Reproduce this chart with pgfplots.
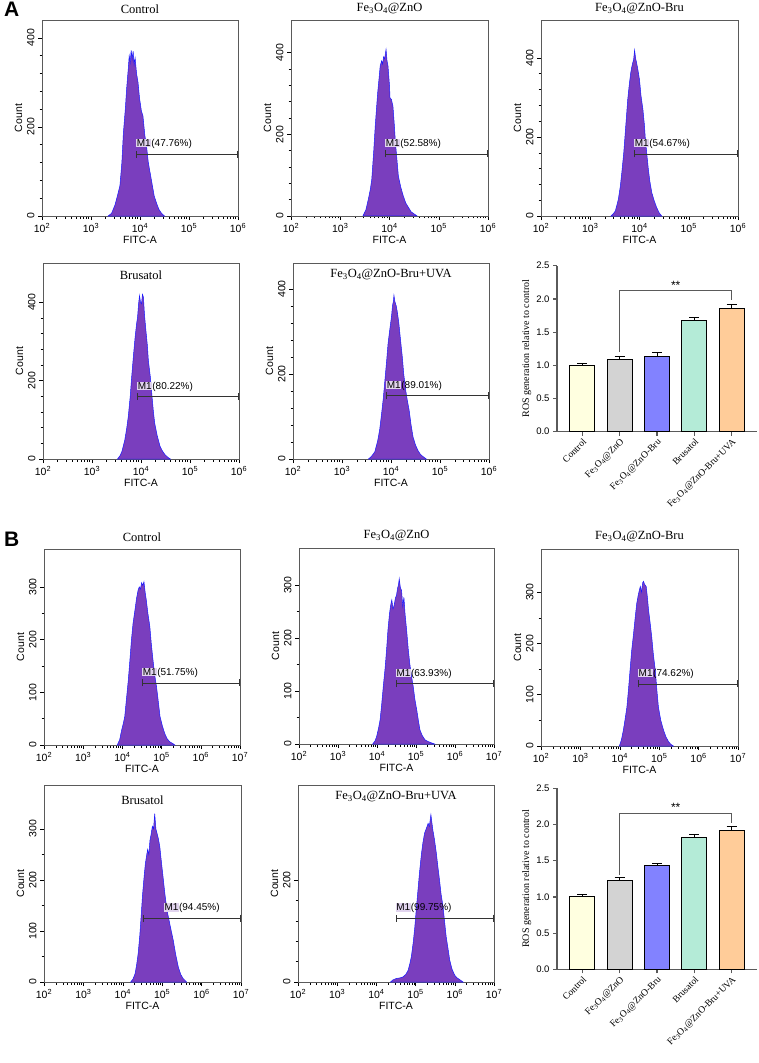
\documentclass[border=0pt]{standalone}
\usepackage{pgfplots}
\pgfplotsset{compat=1.18}
\usepackage{fontspec}
\setmainfont{Liberation Sans}
\newfontfamily\tms{Liberation Serif}
\usetikzlibrary{arrows.meta}

\definecolor{hfill}{RGB}{122,62,190}
\definecolor{hline}{RGB}{25,25,255}
\definecolor{lav}{RGB}{225,212,238}
\definecolor{axgray}{RGB}{90,90,90}
\definecolor{cCtrl}{RGB}{255,255,224}
\definecolor{cZnO}{RGB}{211,211,211}
\definecolor{cBru}{RGB}{130,130,255}
\definecolor{cBrus}{RGB}{180,235,215}
\definecolor{cUVA}{RGB}{255,204,153}

\newcommand{\FeO}{Fe\textsubscript{3}O\textsubscript{4}}
\newcommand{\ttl}[2]{\node[font=\tms\fontsize{12.5}{13}\selectfont] at (rel axis cs:0.5,1) [yshift=#1] {#2};}
\newcommand{\mone}[4]{%
  \draw[black!80, line width=0.6pt, {Bar[width=7pt]}-{Bar[width=7pt]}] (axis cs:#1,#2) -- (axis cs:\pgfkeysvalueof{/pgfplots/xmax},#2);
  \node[anchor=south west, inner sep=0pt, yshift=5pt, font=\fontsize{10}{12}\selectfont] at (axis cs:#3,#2) {{\setlength\fboxsep{0.6pt}\colorbox{lav}{M1}}(#4\%)};}

\pgfplotsset{
  hist/.style={
    scale only axis, width=196pt, height=196pt, anchor=north west,
    ymin=0, xmin=2, clip=false,
    axis line style={axgray, line width=0.6pt},
    tick style={black, line width=0.5pt},
    tick align=outside, xtick pos=bottom, ytick pos=left,
    major tick length=4pt, minor tick length=2.5pt,
    font=\fontsize{10.5}{12}\selectfont,
    /pgf/number format/assume math mode=true,
    y tick label style={rotate=90, anchor=south},
    xlabel={FITC-A}, ylabel={Count},
    xlabel style={yshift=3pt}, ylabel style={yshift=-2pt},
  },
  histA/.style={hist, xmax=6, xtick={2,3,4,5,6},
    xticklabels={10\textsuperscript{2},10\textsuperscript{3},10\textsuperscript{4},10\textsuperscript{5},10\textsuperscript{6}},
    minor xtick={2.301,2.477,2.602,2.699,2.778,2.845,2.903,2.954,
      3.301,3.477,3.602,3.699,3.778,3.845,3.903,3.954,
      4.301,4.477,4.602,4.699,4.778,4.845,4.903,4.954,
      5.301,5.477,5.602,5.699,5.778,5.845,5.903,5.954},
    ytick={0,200,400}, minor y tick num=4},
  histB/.style={hist, xmax=7, xtick={2,3,4,5,6,7},
    xticklabels={10\textsuperscript{2},10\textsuperscript{3},10\textsuperscript{4},10\textsuperscript{5},10\textsuperscript{6},10\textsuperscript{7}},
    minor xtick={2.301,2.477,2.602,2.699,2.778,2.845,2.903,2.954,
      3.301,3.477,3.602,3.699,3.778,3.845,3.903,3.954,
      4.301,4.477,4.602,4.699,4.778,4.845,4.903,4.954,
      5.301,5.477,5.602,5.699,5.778,5.845,5.903,5.954,
      6.301,6.477,6.602,6.699,6.778,6.845,6.903,6.954},
    ytick={0,100,200,300}, minor y tick num=1},
  hst/.style={draw=hline, fill=hfill, line width=0.5pt},
  ros/.style={
    scale only axis, width=200pt, anchor=north west,
    ybar, bar width=25pt, bar shift=0pt,
    xmin=-0.677, xmax=4.677, ymin=0, ymax=2.5,
    axis x line=bottom, axis y line=left,
    axis line style={axgray, line width=1.2pt, -},
    tick style={axgray, line width=1.2pt},
    tick align=outside, major tick length=4pt,
    ytick={0,0.5,1,1.5,2,2.5},
    yticklabel style={/pgf/number format/.cd, fixed, fixed zerofill, precision=1, assume math mode=true},
    xtick={0,1,2,3,4},
    xticklabels={Control, \FeO @ZnO, \FeO @ZnO-Bru, Brusatol, \FeO @ZnO-Bru+UVA},
    x tick label style={rotate=45, anchor=north east, font=\tms\fontsize{9.5}{10}\selectfont, inner sep=1.5pt},
    font=\fontsize{9.5}{11}\selectfont,
    ylabel={ROS generation relative to control},
    ylabel style={font=\tms\fontsize{10}{12}\selectfont, yshift=-2pt},
    clip=false,
    error bars/y dir=plus, error bars/y explicit,
    error bars/error bar style={black, line width=1pt},
    error bars/error mark options={black, line width=1pt, mark size=5pt, rotate=90},
  },
}

\begin{document}
\begin{tikzpicture}
\path[use as bounding box] (0pt,0pt) rectangle (758pt,-1063pt);
\node[anchor=north west, inner sep=0pt, font=\bfseries\fontsize{21}{21}\selectfont] at (4pt,-2pt) {A};
\node[anchor=north west, inner sep=0pt, font=\bfseries\fontsize{21}{21}\selectfont] at (4pt,-532pt) {B};

% ---------- A, row 1
\begin{axis}[histA, at={(42pt,-20pt)}, ymax=440]
\addplot[hst] coordinates {(3.35,0) (3.42,6) (3.49,25) (3.55,50) (3.59,68) (3.63,120) (3.66,185) (3.70,240) (3.73,290) (3.76,330) (3.78,360) (3.80,345) (3.82,372) (3.84,352) (3.86,370) (3.88,340) (3.90,355) (3.93,320) (3.96,300) (3.99,265) (4.03,235) (4.06,225) (4.10,180) (4.13,160) (4.17,120) (4.21,95) (4.25,70) (4.29,45) (4.34,28) (4.39,14) (4.44,6) (4.50,0)} \closedcycle;
\mone{3.92}{139}{3.92}{47.76}
\ttl{11pt}{Control}
\end{axis}

\begin{axis}[histA, at={(291pt,-20pt)}, width=197pt, ymax=480]
\addplot[hst] coordinates {(3.46,0) (3.52,15) (3.57,41) (3.61,65) (3.64,90) (3.68,160) (3.71,220) (3.74,270) (3.76,302) (3.79,340) (3.81,367) (3.84,380) (3.86,372) (3.88,390) (3.90,385) (3.93,408) (3.95,380) (3.97,367) (4.00,320) (4.01,290) (4.04,285) (4.07,269) (4.10,220) (4.12,180) (4.15,140) (4.18,98) (4.23,70) (4.28,49) (4.33,32) (4.39,20) (4.44,10) (4.49,6) (4.56,0)} \closedcycle;
\mone{3.91}{152}{3.91}{52.58}
\ttl{11pt}{\FeO @ZnO}
\end{axis}

\begin{axis}[histA, at={(541pt,-20pt)}, width=197pt, ymax=496]
\addplot[hst] coordinates {(3.42,0) (3.47,6) (3.51,13) (3.57,42) (3.61,75) (3.64,109) (3.68,160) (3.71,210) (3.74,260) (3.76,294) (3.79,330) (3.82,361) (3.84,375) (3.86,387) (3.88,395) (3.90,420) (3.92,400) (3.95,382) (3.97,368) (4.00,345) (4.03,305) (4.07,269) (4.10,230) (4.12,193) (4.15,155) (4.18,118) (4.21,88) (4.25,59) (4.30,38) (4.35,21) (4.40,8) (4.45,0)} \closedcycle;
\mone{3.89}{157}{3.89}{54.67}
\ttl{11pt}{\FeO @ZnO-Bru}
\end{axis}

% ---------- A, row 2
\begin{axis}[histA, at={(43pt,-263pt)}, ymax=500]
\addplot[hst] coordinates {(3.52,0) (3.57,8) (3.61,19) (3.67,49) (3.71,80) (3.74,108) (3.78,160) (3.81,210) (3.85,270) (3.88,311) (3.91,345) (3.93,362) (3.95,395) (3.97,417) (3.99,400) (4.01,396) (4.03,420) (4.05,413) (4.07,370) (4.10,328) (4.13,290) (4.15,252) (4.19,210) (4.22,167) (4.25,125) (4.28,91) (4.33,60) (4.39,32) (4.44,20) (4.49,11) (4.55,4) (4.60,0)} \closedcycle;
\mone{3.92}{160}{3.92}{80.22}
\ttl{-12pt}{Brusatol}
\end{axis}

\begin{axis}[histA, at={(293pt,-263pt)}, ymax=461]
\addplot[hst] coordinates {(3.54,0) (3.60,6) (3.67,17) (3.73,44) (3.77,70) (3.80,99) (3.84,140) (3.87,178) (3.91,230) (3.94,272) (3.97,300) (4.01,335) (4.03,360) (4.05,372) (4.06,385) (4.08,370) (4.11,359) (4.13,345) (4.16,320) (4.19,285) (4.23,241) (4.26,200) (4.30,162) (4.33,140) (4.37,115) (4.41,80) (4.45,52) (4.50,33) (4.55,20) (4.60,11) (4.65,6) (4.72,0)} \closedcycle;
\mone{3.90}{149}{3.90}{89.01}
\ttl{-12pt}{\FeO @ZnO-Bru+UVA}
\end{axis}

\begin{axis}[ros, at={(557pt,-265.7pt)}, height=166pt]
\addplot[fill=cCtrl, draw=black, line width=1pt] coordinates {(0,1.00) +- (0,0.03)};
\addplot[fill=cZnO, draw=black, line width=1pt] coordinates {(1,1.09) +- (0,0.04)};
\addplot[fill=cBru, draw=black, line width=1pt] coordinates {(2,1.14) +- (0,0.06)};
\addplot[fill=cBrus, draw=black, line width=1pt] coordinates {(3,1.67) +- (0,0.05)};
\addplot[fill=cUVA, draw=black, line width=1pt] coordinates {(4,1.86) +- (0,0.05)};
\draw[axgray, line width=1pt] (axis cs:1,1.20) -- (axis cs:1,2.12) -- (axis cs:4,2.12) -- (axis cs:4,1.98);
\node[font=\fontsize{12}{12}\selectfont, anchor=south, inner sep=1pt] at (axis cs:2.5,2.13) {**};
\end{axis}

% ---------- B, row 1
\begin{axis}[histB, at={(44pt,-549pt)}, ymax=372]
\addplot[hst] coordinates {(3.87,0) (3.93,10) (3.98,28) (4.02,40) (4.06,54) (4.10,85) (4.15,123) (4.19,160) (4.23,199) (4.27,230) (4.32,256) (4.36,278) (4.40,294) (4.43,300) (4.46,296) (4.49,308) (4.52,303) (4.55,310) (4.58,290) (4.61,275) (4.65,250) (4.70,225) (4.74,190) (4.79,155) (4.83,130) (4.87,111) (4.92,80) (4.96,54) (5.02,36) (5.08,22) (5.14,12) (5.21,6) (5.28,3) (5.34,0)} \closedcycle;
\mone{4.50}{118}{4.50}{51.75}
\ttl{12pt}{Control}
\end{axis}

\begin{axis}[histB, at={(299pt,-548pt)}, width=195pt, ymax=370]
\addplot[hst] coordinates {(3.89,0) (3.95,6) (3.99,14) (4.04,30) (4.08,46) (4.12,75) (4.16,108) (4.21,145) (4.25,183) (4.28,215) (4.32,246) (4.35,262) (4.38,272) (4.41,255) (4.44,262) (4.47,275) (4.50,281) (4.53,295) (4.55,300) (4.57,312) (4.60,295) (4.63,290) (4.66,260) (4.69,277) (4.72,245) (4.76,215) (4.80,180) (4.84,152) (4.88,130) (4.93,108) (4.97,85) (5.02,64) (5.06,45) (5.10,27) (5.16,16) (5.23,8) (5.30,5) (5.40,2) (5.48,0)} \closedcycle;
\mone{4.48}{114}{4.48}{63.93}
\ttl{12pt}{\FeO @ZnO}
\end{axis}

\begin{axis}[histB, at={(541pt,-549pt)}, width=197pt, height=197pt, ymax=384]
\addplot[hst] coordinates {(3.99,0) (4.04,12) (4.09,31) (4.13,50) (4.18,76) (4.22,110) (4.26,148) (4.30,185) (4.35,220) (4.39,250) (4.43,278) (4.47,295) (4.50,305) (4.52,311) (4.55,300) (4.58,318) (4.60,321) (4.63,315) (4.67,311) (4.70,290) (4.73,265) (4.77,240) (4.81,213) (4.85,180) (4.90,148) (4.94,110) (4.98,76) (5.04,50) (5.11,31) (5.17,18) (5.24,8) (5.30,3) (5.36,0)} \closedcycle;
\mone{4.46}{121}{4.46}{74.62}
\ttl{12pt}{\FeO @ZnO-Bru}
\end{axis}

% ---------- B, row 2
\begin{axis}[histB, at={(44pt,-785pt)}, width=197pt, height=197pt, ymax=386]
\addplot[hst] coordinates {(4.20,0) (4.26,6) (4.31,16) (4.35,33) (4.39,56) (4.43,90) (4.47,134) (4.50,170) (4.54,206) (4.57,230) (4.60,246) (4.63,260) (4.66,250) (4.69,278) (4.72,290) (4.75,305) (4.78,300) (4.81,330) (4.84,300) (4.87,291) (4.90,282) (4.94,265) (4.98,235) (5.03,200) (5.07,172) (5.11,147) (5.15,130) (5.19,115) (5.23,100) (5.28,82) (5.34,55) (5.41,29) (5.47,15) (5.53,7) (5.62,0)} \closedcycle;
\mone{4.50}{125}{5.04}{94.45}
\ttl{-15pt}{Brusatol}
\end{axis}

\begin{axis}[histB, at={(298pt,-785pt)}, height=197pt, ymax=386, ytick={0,200}, minor y tick num=4]
\addplot[hst] coordinates {(4.36,0) (4.42,4) (4.51,7) (4.60,8) (4.68,10) (4.75,15) (4.81,23) (4.85,35) (4.89,49) (4.94,78) (4.98,108) (5.02,145) (5.06,180) (5.10,215) (5.15,252) (5.19,275) (5.23,292) (5.27,300) (5.32,311) (5.35,305) (5.39,328) (5.42,310) (5.44,298) (5.48,280) (5.53,252) (5.57,225) (5.61,200) (5.65,172) (5.70,148) (5.74,118) (5.78,89) (5.83,64) (5.87,43) (5.93,25) (6.00,13) (6.06,8) (6.12,5) (6.21,0)} \closedcycle;
\mone{4.49}{125}{4.49}{99.75}
\ttl{-12pt}{\FeO @ZnO-Bru+UVA}
\end{axis}

\begin{axis}[ros, at={(557pt,-788.3pt)}, height=181pt]
\addplot[fill=cCtrl, draw=black, line width=1pt] coordinates {(0,1.00) +- (0,0.04)};
\addplot[fill=cZnO, draw=black, line width=1pt] coordinates {(1,1.23) +- (0,0.04)};
\addplot[fill=cBru, draw=black, line width=1pt] coordinates {(2,1.44) +- (0,0.02)};
\addplot[fill=cBrus, draw=black, line width=1pt] coordinates {(3,1.82) +- (0,0.04)};
\addplot[fill=cUVA, draw=black, line width=1pt] coordinates {(4,1.92) +- (0,0.05)};
\draw[axgray, line width=1pt] (axis cs:1,1.30) -- (axis cs:1,2.15) -- (axis cs:4,2.15) -- (axis cs:4,2.02);
\node[font=\fontsize{12}{12}\selectfont, anchor=south, inner sep=1pt] at (axis cs:2.5,2.16) {**};
\end{axis}
\end{tikzpicture}
\end{document}
